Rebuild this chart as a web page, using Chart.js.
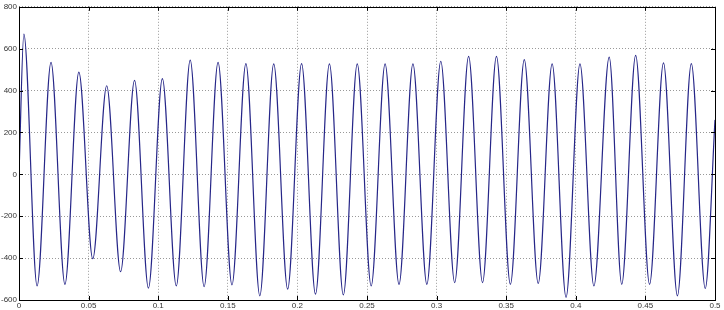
<!DOCTYPE html>
<html>
<head>
<meta charset="utf-8">
<script src="https://cdn.jsdelivr.net/npm/chart.js@4/dist/chart.umd.min.js"></script>
<style>
html,body{margin:0;padding:0;background:#fff;}
#wrap{width:724px;height:310px;}
</style>
</head>
<body>
<div id="wrap"><canvas id="grafico" width="724" height="310"></canvas></div>
<script>
// values: peak / trough times (s) and amplitudes
const peakTimes = [0.0035,0.023,0.043,0.063,0.083,0.103,0.123,0.143,0.163,0.183,0.203,0.223,0.243,0.263,0.283,0.303,0.323,0.343,0.363,0.383,0.403,0.424,0.443,0.463,0.483];
const peakValues = [670,535,488,423,449,457,545,535,529,527,529,527,527,527,527,540,563,563,548,527,527,560,568,532,529];

const troughTimes = [0.013,0.033,0.053,0.073,0.093,0.113,0.133,0.153,0.173,0.193,0.213,0.233,0.253,0.273,0.293,0.313,0.333,0.353,0.373,0.393,0.413,0.433,0.453,0.473,0.493];
const troughValues = [-533,-525,-403,-465,-543,-533,-536,-528,-580,-548,-572,-576,-533,-525,-525,-517,-517,-525,-521,-587,-533,-525,-525,-580,-545];

const startPoint = {x:0, y:0};
const endPoint = {x:0.5, y:260};

const xTicks = [0,0.05,0.1,0.15,0.2,0.25,0.3,0.35,0.4,0.45,0.5];
const yTicks = [-600,-400,-200,0,200,400,600,800];

let pontos = [startPoint];
peakTimes.forEach((t,i)=>pontos.push({x:t, y:peakValues[i]}));
troughTimes.forEach((t,i)=>pontos.push({x:t, y:troughValues[i]}));
pontos.push(endPoint);
pontos.sort((a,b)=>a.x-b.x);

const fonte = {family:"'Liberation Sans', Arial, sans-serif", size:8};

// box + inward ticks like matlab
const caixa = {
  id:"caixa",
  afterDraw(chart){
    const c = chart.ctx;
    const a = chart.chartArea;
    const sx = chart.scales.x, sy = chart.scales.y;
    c.save();
    c.setLineDash([]);
    c.strokeStyle = "#000";
    c.lineWidth = 1;
    c.strokeRect(Math.round(a.left)+0.5, Math.round(a.top)+0.5, Math.round(a.right-a.left), Math.round(a.bottom-a.top));
    c.beginPath();
    xTicks.forEach(v=>{
      const px = Math.round(sx.getPixelForValue(v))+0.5;
      c.moveTo(px,a.bottom); c.lineTo(px,a.bottom-4);
      c.moveTo(px,a.top); c.lineTo(px,a.top+4);
    });
    yTicks.forEach(v=>{
      const py = Math.round(sy.getPixelForValue(v))+0.5;
      c.moveTo(a.left,py); c.lineTo(a.left+4,py);
      c.moveTo(a.right,py); c.lineTo(a.right-4,py);
    });
    c.stroke();
    c.restore();
  }
};

new Chart(document.getElementById("grafico"),{
  type:"line",
  data:{
    datasets:[{
      data:pontos,
      borderColor:"#262688",
      borderWidth:1.2,
      pointRadius:0,
      fill:false,
      cubicInterpolationMode:"monotone"
    }]
  },
  options:{
    responsive:false,
    animation:false,
    layout:{padding:{top:0,right:9,left:0,bottom:0}},
    plugins:{legend:{display:false},tooltip:{enabled:false}},
    scales:{
      x:{
        type:"linear",
        min:0,max:0.5,
        afterBuildTicks(s){ s.ticks = xTicks.map(v=>({value:v})); },
        afterFit(s){ s.height = 10; },
        ticks:{font:fonte,color:"#333",padding:1,maxRotation:0,
          callback:v=>String(Number(v.toFixed(2)))},
        grid:{color:"rgba(0,0,0,0.4)",lineWidth:1,drawTicks:false},
        border:{display:false,dash:[1,2]}
      },
      y:{
        min:-600,max:800,
        afterBuildTicks(s){ s.ticks = yTicks.map(v=>({value:v})); },
        afterFit(s){ s.width = 19; },
        ticks:{font:fonte,color:"#333",padding:2},
        grid:{color:"rgba(0,0,0,0.4)",lineWidth:1,drawTicks:false},
        border:{display:false,dash:[1,2]}
      }
    }
  },
  plugins:[caixa]
});
</script>
</body>
</html>
